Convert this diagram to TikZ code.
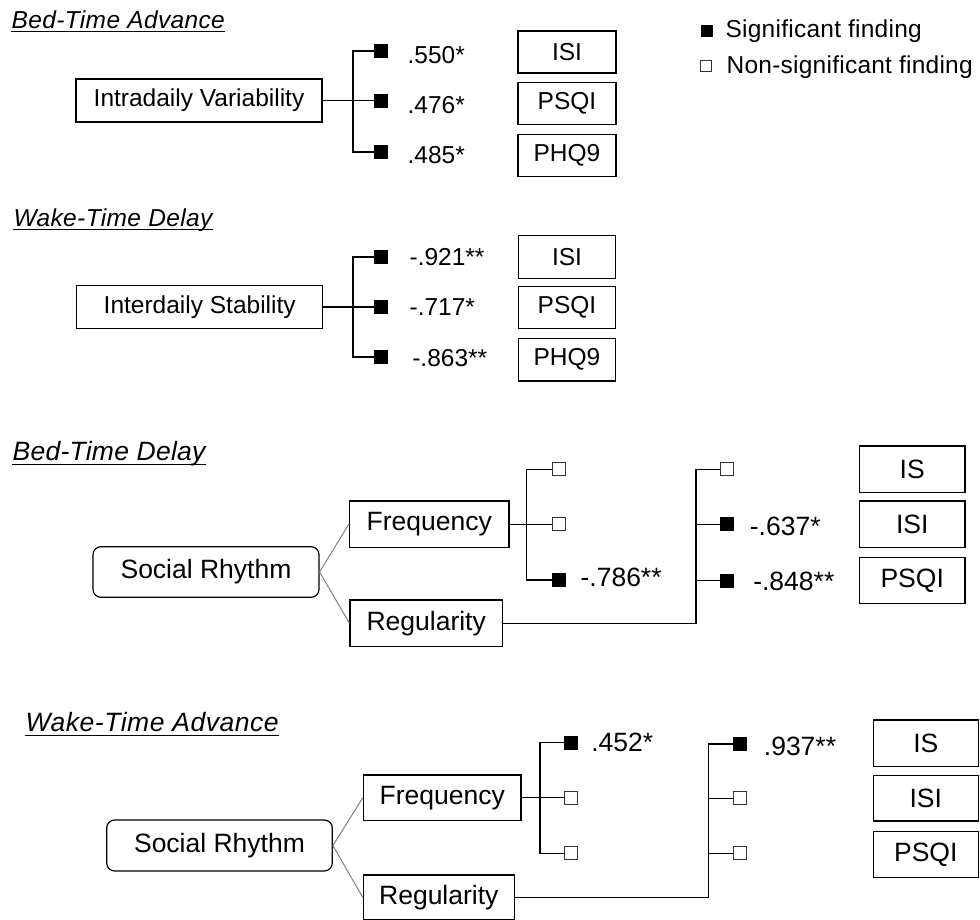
\documentclass[tikz,border=0pt]{standalone}
\usepackage{fontspec}
\setmainfont{Liberation Sans}
\tikzset{
  box/.style={draw, inner sep=0pt},
  small/.style={font=\fontsize{24.5}{29}\selectfont},
  large/.style={font=\fontsize{26.5}{31}\selectfont},
  sig/.style={draw, fill=black, line width=0.8pt, minimum size=13pt, inner sep=0pt},
  nonsig/.style={draw=black!80, fill=white, line width=0.8pt, minimum size=13pt, inner sep=0pt},
  val/.style={anchor=base west, inner sep=0pt},
  heading/.style={anchor=base west, inner sep=0pt},
  branch/.style={draw=black!50, line width=1pt}
}

\begin{document}
\begin{tikzpicture}[x=1pt, y=-1pt, line width=1.2pt]
  \useasboundingbox (0,0) rectangle (980,920);
  % legend
  \node[sig, minimum size=11pt] (lsig) at (706.7,30.7) {};
  \node[val, font=\fontsize{24.5}{29}\selectfont\addfontfeature{LetterSpace=1}] (lsigtxt) at (725,37.3) {Significant finding};
  \node[nonsig, minimum size=11pt] (lnon) at (706.3,66) {};
  \node[val, font=\fontsize{24.5}{29}\selectfont\addfontfeature{LetterSpace=1}] (lnontxt) at (726,74) {Non-significant finding};

  % Bed-Time Advance
  \node[heading, font=\itshape\fontsize{24.5}{29}\selectfont\addfontfeature{LetterSpace=1.5}] (ta) at (11,28.3) {Bed-Time Advance};
  \draw[line width=1pt] ([yshift=-3.4pt]ta.base west) -- ([yshift=-3.4pt]ta.base east);
  \node[box, small, minimum width=246pt, minimum height=43pt] (iv) at (199,100.5) {Intradaily Variability};
  \node[sig] (a1) at (380.5,51) {};
  \node[sig] (a2) at (380.5,100.5) {};
  \node[sig] (a3) at (380.5,152) {};
  \coordinate (ak) at (353,100.5);
  \draw (iv) -- (a2);
  \draw (a1) -| (ak) |- (a3);
  \node[val, small] (va1) at (407,63.3) {.550*};
  \node[val, small] (va2) at (407,113.3) {.476*};
  \node[val, small] (va3) at (407,163.3) {.485*};
  \node[box, small, minimum width=98pt, minimum height=42pt] (oa1) at (567,52) {ISI};
  \node[box, small, minimum width=98pt, minimum height=42pt] (oa2) at (567,103.5) {PSQI};
  \node[box, small, minimum width=98pt, minimum height=42pt] (oa3) at (567,155.5) {PHQ9};

  % Wake-Time Delay
  \node[heading, font=\itshape\fontsize{24.5}{29}\selectfont\addfontfeature{LetterSpace=1.5}] (tb) at (13,226) {Wake-Time Delay};
  \draw[line width=1pt] ([yshift=-3.4pt]tb.base west) -- ([yshift=-3.4pt]tb.base east);
  \node[box, small, minimum width=246pt, minimum height=42.6pt] (ids) at (199.7,307) {Interdaily Stability};
  \node[sig] (b1) at (380.5,257) {};
  \node[sig] (b2) at (380.5,307) {};
  \node[sig] (b3) at (380.5,357) {};
  \coordinate (bk) at (353,307);
  \draw (ids) -- (b2);
  \draw (b1) -| (bk) |- (b3);
  \node[val, small] (vb1) at (409,265.7) {-.921**};
  \node[val, small] (vb2) at (409,315) {-.717*};
  \node[val, small] (vb3) at (411.7,366.7) {-.863**};
  \node[box, small, minimum width=97.5pt, minimum height=43pt] (ob1) at (567,256.7) {ISI};
  \node[box, small, minimum width=97.5pt, minimum height=42pt] (ob2) at (567,307.2) {PSQI};
  \node[box, small, minimum width=97.5pt, minimum height=42.7pt] (ob3) at (567,359.7) {PHQ9};

  % Bed-Time Delay
  \node[heading, font=\itshape\fontsize{26.5}{31}\selectfont\addfontfeature{LetterSpace=1}] (tc) at (12,460.7) {Bed-Time Delay};
  \draw[line width=1pt] ([yshift=-3.4pt]tc.base west) -- ([yshift=-3.4pt]tc.base east);
  \node[box, large, rounded corners=8pt, minimum width=226pt, minimum height=50.6pt] (src) at (206,572) {Social Rhythm};
  \node[box, large, minimum width=159.7pt, minimum height=46.5pt] (frc) at (429.2,524.3) {Frequency};
  \node[box, large, minimum width=152.3pt, minimum height=46.7pt] (rgc) at (426.2,623.3) {Regularity};
  \draw[branch] (src.east) -- (frc.west);
  \draw[branch] (src.east) -- (rgc.west);
  \node[nonsig] (c1) at (558.7,469.3) {};
  \node[nonsig] (c2) at (558.7,524.3) {};
  \node[sig] (c3) at (558.7,580) {};
  \coordinate (ck) at (526.7,524.3);
  \draw (frc) -- (c2);
  \draw (c1) -| (ck) |- (c3);
  \node[val, large] (vc3) at (580,586.7) {-.786**};
  \node[nonsig] (d1) at (727,469.3) {};
  \node[sig] (d2) at (727,524.3) {};
  \node[sig] (d3) at (727,580.5) {};
  \coordinate (dk) at (696,469.3);
  \draw (rgc.east) -| (dk) -- (d1);
  \draw (d2) -- (d2 -| dk);
  \draw (d3) -- (d3 -| dk);
  \node[val, large] (vd2) at (749.3,535) {-.637*};
  \node[val, large] (vd3) at (752.7,590) {-.848**};
  \node[box, large, minimum width=105.7pt, minimum height=46.3pt] (oc1) at (912.2,469.2) {IS};
  \node[box, large, minimum width=105.7pt, minimum height=46.5pt] (oc2) at (912.2,524.3) {ISI};
  \node[box, large, minimum width=105.7pt, minimum height=46pt] (oc3) at (912.2,580.3) {PSQI};

  % Wake-Time Advance
  \node[heading, font=\itshape\fontsize{26.5}{31}\selectfont\addfontfeature{LetterSpace=2}] (td) at (25,731.7) {Wake-Time Advance};
  \draw[line width=1pt] ([yshift=-3.4pt]td.base west) -- ([yshift=-3.4pt]td.base east);
  \node[box, large, rounded corners=8pt, minimum width=225.6pt, minimum height=51pt] (srd) at (219.5,845.5) {Social Rhythm};
  \node[box, large, minimum width=157.7pt, minimum height=45.7pt] (frd) at (442.2,797.8) {Frequency};
  \node[box, large, minimum width=151pt, minimum height=44.5pt] (rgd) at (438.8,897.3) {Regularity};
  \draw[branch] (srd.east) -- (frd.west);
  \draw[branch] (srd.east) -- (rgd.west);
  \node[sig] (e1) at (571.3,742.7) {};
  \node[nonsig] (e2) at (571.3,797.8) {};
  \node[nonsig] (e3) at (571.3,853.3) {};
  \coordinate (ek) at (540,797.8);
  \draw (frd) -- (e2);
  \draw (e1) -| (ek) |- (e3);
  \node[val, large] (ve1) at (590.7,751.7) {.452*};
  \node[sig] (f1) at (740,744) {};
  \node[nonsig] (f2) at (740,798.3) {};
  \node[nonsig] (f3) at (740,853.3) {};
  \coordinate (fk) at (708.7,744);
  \draw (rgd.east) -| (fk) -- (f1);
  \draw (f2) -- (f2 -| fk);
  \draw (f3) -- (f3 -| fk);
  \node[val, large] (vf1) at (763.3,755) {.937**};
  \node[box, large, minimum width=105pt, minimum height=46.7pt] (od1) at (925.8,743.3) {IS};
  \node[box, large, minimum width=105pt, minimum height=45.3pt] (od2) at (925.8,798.3) {ISI};
  \node[box, large, minimum width=105pt, minimum height=46pt] (od3) at (925.8,854.7) {PSQI};
\end{tikzpicture}
\end{document}
